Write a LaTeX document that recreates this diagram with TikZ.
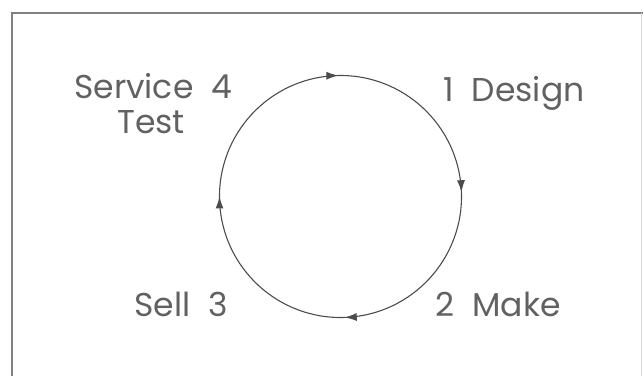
\documentclass[tikz,border=0pt]{standalone}
\usepackage{fontspec}
\setmainfont{Poppins}
\usetikzlibrary{arrows.meta,decorations.markings}
\newcommand{\numgap}{\hspace{0.55em}}
\begin{document}
\begin{tikzpicture}[
    x=1pt, y=1pt,
    >={Latex[length=12pt,width=8pt]},
    every node/.style={font=\fontsize{33}{38}\selectfont, text=black!62, inner sep=0pt},
    lbl/.style={anchor=base west},
    frame/.style={draw=black!50, line width=2.4pt},
    ring/.style={
        draw=black!70, line width=1.1pt,
        postaction={decorate},
        decoration={markings,
            mark=at position 0.0111 with {\arrow{>}},
            mark=at position 0.2583 with {\arrow{>}},
            mark=at position 0.5083 with {\arrow{>}},
            mark=at position 0.7639 with {\arrow{>}}}
    }
]
\useasboundingbox (0,0) rectangle (643,376);

% ----------------------------------------------------------
% Rahmen (nur oben und links deutlich sichtbar)
% ----------------------------------------------------------
\draw[frame] (12,0) -- (12,363) -- (643,363);
\draw[draw=black!15, line width=1pt] (641,0) -- (641,363);

% ----------------------------------------------------------
% Kreislauf im Uhrzeigersinn
% ----------------------------------------------------------
\coordinate (hub) at (340.5,179.5);
\draw[ring] ([shift={(95:121)}]hub) arc[start angle=95, end angle=-265, radius=121];

% ----------------------------------------------------------
% Beschriftungen der vier Phasen
% ----------------------------------------------------------
\node[lbl] (design)  at (443,275) {1\numgap Design};
\node[lbl] (make)    at (435,60)  {2\numgap Make};
\node[lbl] (sell)    at (134,60)  {Sell\numgap 3};
\node[lbl] (service) at (74,278)  {Service\numgap 4};
\node[lbl] (test)    at (117,243) {Test};

\end{tikzpicture}
\end{document}
